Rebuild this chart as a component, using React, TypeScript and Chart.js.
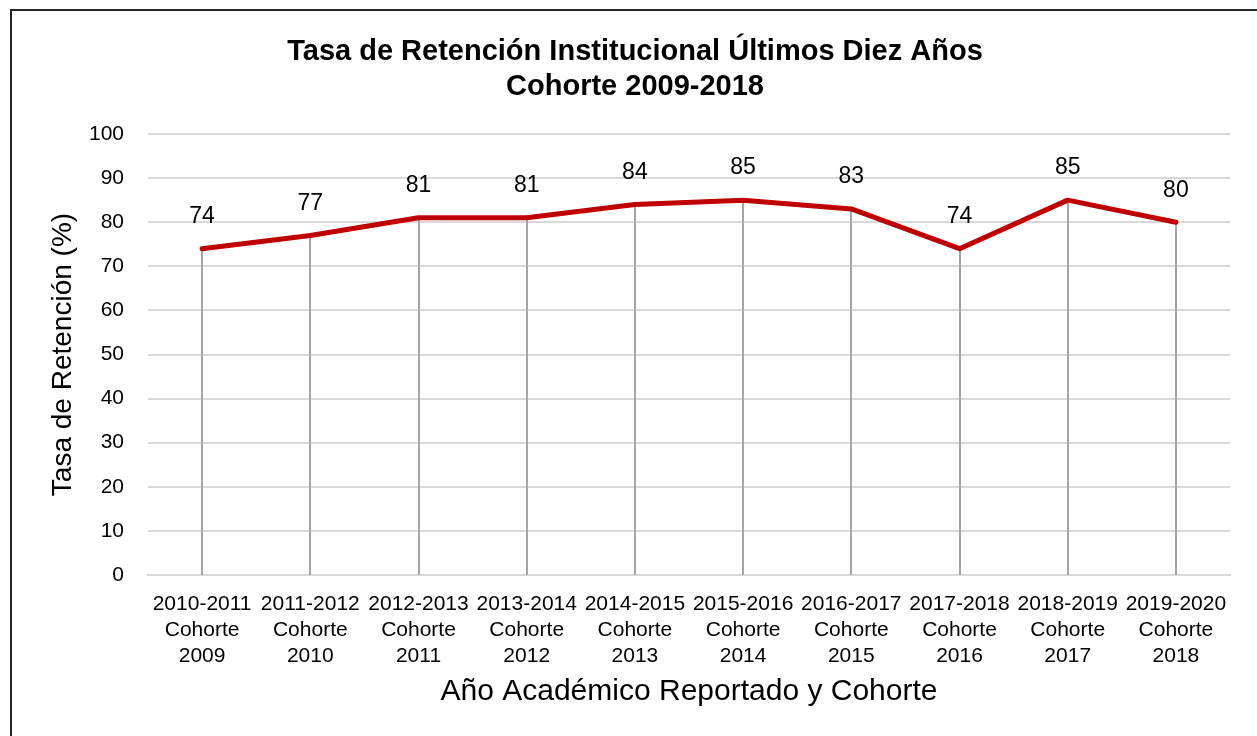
import React, { useEffect, useRef } from "react";
import { Chart, registerables } from "chart.js";

Chart.register(...registerables);

const categories: string[][] = [
  ["2010-2011", "Cohorte", "2009"],
  ["2011-2012", "Cohorte", "2010"],
  ["2012-2013", "Cohorte", "2011"],
  ["2013-2014", "Cohorte", "2012"],
  ["2014-2015", "Cohorte", "2013"],
  ["2015-2016", "Cohorte", "2014"],
  ["2016-2017", "Cohorte", "2015"],
  ["2017-2018", "Cohorte", "2016"],
  ["2018-2019", "Cohorte", "2017"],
  ["2019-2020", "Cohorte", "2018"],
];
const retention: number[] = [74, 77, 81, 81, 84, 85, 83, 74, 85, 80];
const titleLines: string[] = [
  "Tasa de Retención Institucional Últimos Diez Años",
  "Cohorte 2009-2018",
];
const yTitle = "Tasa de Retención (%)";
const xTitle = "Año Académico Reportado y Cohorte";

const FONT = "'Liberation Sans', Arial, sans-serif";

const dropLinesPlugin = {
  id: "dropLines",
  beforeDatasetsDraw(chart: any) {
    const meta = chart.getDatasetMeta(0);
    const { ctx, chartArea } = chart;
    ctx.save();
    ctx.strokeStyle = "#A6A6A6";
    ctx.lineWidth = 2;
    meta.data.forEach((pt: any) => {
      ctx.beginPath();
      ctx.moveTo(Math.round(pt.x), pt.y);
      ctx.lineTo(Math.round(pt.x), chartArea.bottom);
      ctx.stroke();
    });
    ctx.restore();
  },
};

const dataLabelsPlugin = {
  id: "dataLabels",
  afterDatasetsDraw(chart: any) {
    const meta = chart.getDatasetMeta(0);
    const ds = chart.data.datasets[0];
    const { ctx } = chart;
    ctx.save();
    ctx.font = `23px ${FONT}`;
    ctx.fillStyle = "#000";
    ctx.textAlign = "center";
    ctx.textBaseline = "middle";
    meta.data.forEach((pt: any, i: number) => {
      ctx.fillText(String(ds.data[i]), pt.x, pt.y - 32);
    });
    ctx.restore();
  },
};

export default function App() {
  const ref = useRef<HTMLCanvasElement | null>(null);
  useEffect(() => {
    if (!ref.current) return;
    const chart = new Chart(ref.current, {
      type: "line",
      data: {
        labels: categories,
        datasets: [
          {
            data: retention,
            borderColor: "#C00000",
            borderWidth: 5,
            pointRadius: 0,
            tension: 0,
            fill: false,
            borderCapStyle: "round",
            borderJoinStyle: "round",
          },
        ],
      },
      options: {
        animation: false,
        responsive: false,
        maintainAspectRatio: false,
        layout: { padding: { left: 40, right: 27, top: 0, bottom: 26 } },
        plugins: {
          legend: { display: false },
          tooltip: { enabled: false },
          title: {
            display: true,
            text: titleLines,
            color: "#000",
            font: { family: FONT, size: 29, weight: "bold", lineHeight: "35px" },
            padding: { top: 34, bottom: 30 },
          },
        },
        scales: {
          x: {
            offset: true,
            grid: { display: false, drawTicks: false },
            border: { display: true, color: "#D9D9D9", width: 2 },
            ticks: {
              color: "#000",
              font: { family: FONT, size: 21, lineHeight: "26px" },
              padding: 16,
              maxRotation: 0,
              autoSkip: false,
            },
            title: {
              display: true,
              text: xTitle,
              color: "#000",
              font: { family: FONT, size: 30 },
              padding: { top: 0, bottom: 0 },
            },
            afterFit(scale: any) {
              scale.height = 135;
            },
          },
          y: {
            min: 0,
            max: 100,
            grid: { color: "#D9D9D9", lineWidth: 2, drawTicks: false },
            border: { display: false },
            ticks: {
              stepSize: 10,
              color: "#000",
              font: { family: FONT, size: 21 },
              padding: 24,
            },
            title: {
              display: true,
              text: yTitle,
              color: "#000",
              font: { family: FONT, size: 28 },
              padding: { top: 6, bottom: 0 },
            },
            afterFit(scale: any) {
              scale.width = 108;
            },
          },
        },
      },
      plugins: [dropLinesPlugin, dataLabelsPlugin],
    });
    return () => chart.destroy();
  }, []);

  return (
    <div
      style={{
        position: "fixed",
        left: 0,
        top: 0,
        width: 1257,
        height: 736,
        overflow: "hidden",
        background: "#fff",
      }}
    >
      <div
        style={{
          position: "absolute",
          left: 10,
          top: 9,
          width: 1400,
          height: 900,
          border: "2px solid #262626",
        }}
      />
      <canvas
        ref={ref}
        width={1257}
        height={736}
        style={{ position: "absolute", left: 0, top: 0, width: 1257, height: 736 }}
      />
    </div>
  );
}
